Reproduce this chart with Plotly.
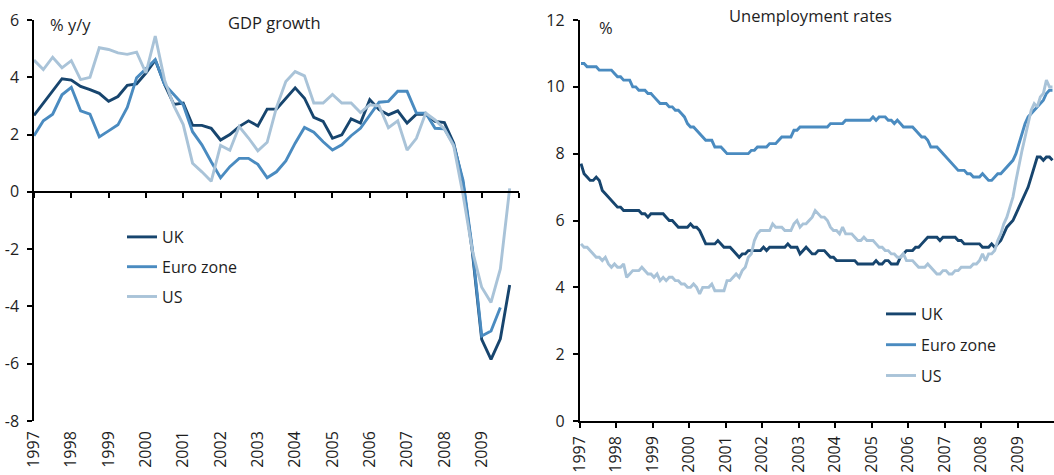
import plotly.graph_objects as go

# ---------------- GDP growth (% y/y), quarterly 1997Q1 - 2009Q4 ----------------
gdp_start_year = 1997
gdp_uk = [2.67, 3.1, 3.5, 3.95, 3.9, 3.68, 3.57, 3.44, 3.16, 3.33,
          3.72, 3.77, 4.15, 4.6, 3.75, 3.05, 3.1, 2.32, 2.32, 2.22,
          1.81, 2.0, 2.28, 2.48, 2.3, 2.89, 2.89, 3.27, 3.63, 3.27,
          2.6, 2.46, 1.87, 1.99, 2.55, 2.4, 3.22, 2.87, 2.69, 2.83,
          2.4, 2.71, 2.71, 2.46, 2.42, 1.7, 0.3, -2.1, -5.15, -5.85,
          -5.13, -3.25]
gdp_euro = [1.96, 2.48, 2.71, 3.39, 3.65, 2.83, 2.71, 1.92, 2.13, 2.34,
            2.95, 3.98, 4.3, 4.62, 3.75, 3.4, 3.04, 2.1, 1.64, 1.05,
            0.49, 0.88, 1.17, 1.17, 0.96, 0.49, 0.7, 1.08, 1.7, 2.25,
            2.08, 1.75, 1.46, 1.64, 1.96, 2.22, 2.67, 3.13, 3.16, 3.51,
            3.51, 2.75, 2.75, 2.22, 2.2, 1.64, 0.4, -2.0, -5.03, -4.86,
            -4.04]
gdp_us = [4.6, 4.27, 4.7, 4.33, 4.58, 3.92, 4.0, 5.03, 4.97, 4.85,
          4.8, 4.88, 4.15, 5.44, 3.9, 3.0, 2.35, 1.0, 0.7, 0.37,
          1.62, 1.45, 2.28, 1.88, 1.43, 1.73, 2.95, 3.85, 4.2, 4.05,
          3.1, 3.1, 3.4, 3.1, 3.1, 2.77, 3.04, 3.0, 2.24, 2.48,
          1.46, 1.87, 2.75, 2.51, 2.2, 1.6, -0.1, -2.05, -3.33, -3.86,
          -2.69, 0.12]
gdp_ticks = [-8, -6, -4, -2, 0, 2, 4, 6]
gdp_tick_labels = ["-8", "-6", "-4", "-2", "0", "2", "4", "6"]

# ---------------- Unemployment rates (%), monthly Jan 1997 - Dec 2009 ----------------
un_start_year = 1997
un_uk = [7.7, 7.4, 7.3, 7.2, 7.2, 7.3, 7.2, 6.9, 6.8, 6.7, 6.6, 6.5,   # 1997
         6.4, 6.4, 6.3, 6.3, 6.3, 6.3, 6.3, 6.3, 6.2, 6.2, 6.1, 6.2,   # 1998
         6.2, 6.2, 6.2, 6.2, 6.1, 6.0, 6.0, 5.9, 5.8, 5.8, 5.8, 5.8,   # 1999
         5.9, 5.8, 5.8, 5.7, 5.5, 5.3, 5.3, 5.3, 5.3, 5.4, 5.3, 5.2,   # 2000
         5.2, 5.2, 5.1, 5.0, 4.9, 5.0, 5.0, 5.1, 5.1, 5.1, 5.1, 5.1,   # 2001
         5.2, 5.1, 5.2, 5.2, 5.2, 5.2, 5.2, 5.2, 5.3, 5.2, 5.2, 5.2,   # 2002
         5.0, 5.1, 5.2, 5.1, 5.0, 5.0, 5.1, 5.1, 5.1, 5.0, 4.9, 4.9,   # 2003
         4.8, 4.8, 4.8, 4.8, 4.8, 4.8, 4.8, 4.7, 4.7, 4.7, 4.7, 4.7,   # 2004
         4.7, 4.8, 4.7, 4.7, 4.8, 4.8, 4.7, 4.7, 4.7, 4.9, 5.0, 5.1,   # 2005
         5.1, 5.1, 5.2, 5.2, 5.3, 5.4, 5.5, 5.5, 5.5, 5.5, 5.4, 5.5,   # 2006
         5.5, 5.5, 5.5, 5.5, 5.4, 5.4, 5.3, 5.3, 5.3, 5.3, 5.3, 5.3,   # 2007
         5.2, 5.2, 5.2, 5.3, 5.2, 5.3, 5.4, 5.6, 5.8, 5.9, 6.0, 6.2,   # 2008
         6.4, 6.6, 6.8, 7.0, 7.3, 7.6, 7.9, 7.9, 7.8, 7.9, 7.9, 7.8]   # 2009
un_euro = [10.7, 10.7, 10.6, 10.6, 10.6, 10.6, 10.5, 10.5, 10.5, 10.5, 10.5, 10.4,   # 1997
           10.3, 10.3, 10.2, 10.2, 10.2, 10.0, 10.0, 9.9, 9.9, 9.9, 9.8, 9.8,      # 1998
           9.7, 9.6, 9.5, 9.5, 9.5, 9.4, 9.4, 9.3, 9.3, 9.2, 9.1, 8.9,             # 1999
           8.8, 8.8, 8.7, 8.6, 8.5, 8.4, 8.4, 8.4, 8.2, 8.2, 8.2, 8.1,             # 2000
           8.0, 8.0, 8.0, 8.0, 8.0, 8.0, 8.0, 8.0, 8.1, 8.1, 8.2, 8.2,             # 2001
           8.2, 8.2, 8.3, 8.3, 8.3, 8.4, 8.5, 8.5, 8.5, 8.5, 8.7, 8.7,             # 2002
           8.8, 8.8, 8.8, 8.8, 8.8, 8.8, 8.8, 8.8, 8.8, 8.8, 8.9, 8.9,             # 2003
           8.9, 8.9, 8.9, 9.0, 9.0, 9.0, 9.0, 9.0, 9.0, 9.0, 9.0, 9.0,             # 2004
           9.1, 9.0, 9.1, 9.1, 9.1, 9.0, 9.0, 8.9, 9.0, 8.9, 8.8, 8.8,             # 2005
           8.8, 8.8, 8.7, 8.6, 8.5, 8.5, 8.4, 8.2, 8.2, 8.2, 8.1, 8.0,             # 2006
           7.9, 7.8, 7.7, 7.6, 7.5, 7.5, 7.5, 7.4, 7.4, 7.3, 7.3, 7.3,             # 2007
           7.4, 7.3, 7.2, 7.2, 7.3, 7.4, 7.4, 7.5, 7.6, 7.7, 7.8, 8.0,             # 2008
           8.3, 8.6, 8.9, 9.1, 9.2, 9.3, 9.4, 9.5, 9.6, 9.8, 9.9, 9.9]             # 2009
un_us = [5.3, 5.2, 5.2, 5.1, 5.0, 4.9, 4.9, 4.8, 4.9, 4.7, 4.6, 4.7,   # 1997
         4.6, 4.6, 4.7, 4.3, 4.4, 4.5, 4.5, 4.5, 4.6, 4.5, 4.4, 4.4,   # 1998
         4.3, 4.4, 4.2, 4.3, 4.2, 4.3, 4.3, 4.2, 4.2, 4.1, 4.1, 4.0,   # 1999
         4.0, 4.1, 4.0, 3.8, 4.0, 4.0, 4.0, 4.1, 3.9, 3.9, 3.9, 3.9,   # 2000
         4.2, 4.2, 4.3, 4.4, 4.3, 4.5, 4.6, 4.9, 5.0, 5.4, 5.6, 5.7,   # 2001
         5.7, 5.7, 5.7, 5.9, 5.8, 5.8, 5.8, 5.7, 5.7, 5.7, 5.9, 6.0,   # 2002
         5.8, 5.9, 5.9, 6.0, 6.1, 6.3, 6.2, 6.1, 6.1, 6.0, 5.8, 5.7,   # 2003
         5.7, 5.6, 5.8, 5.6, 5.6, 5.6, 5.5, 5.4, 5.4, 5.5, 5.4, 5.4,   # 2004
         5.4, 5.3, 5.2, 5.2, 5.1, 5.1, 5.0, 5.0, 4.9, 4.9, 5.0, 4.8,   # 2005
         4.8, 4.8, 4.7, 4.6, 4.6, 4.6, 4.7, 4.6, 4.5, 4.4, 4.4, 4.5,   # 2006
         4.5, 4.4, 4.4, 4.5, 4.5, 4.6, 4.6, 4.6, 4.6, 4.7, 4.7, 4.8,   # 2007
         5.0, 4.8, 5.0, 5.0, 5.1, 5.4, 5.6, 5.9, 6.1, 6.4, 6.7, 7.2,   # 2008
         7.7, 8.1, 8.5, 8.9, 9.3, 9.5, 9.4, 9.7, 9.8, 10.2, 10.0, 10.0]  # 2009

series_names = ["UK", "Euro zone", "US"]
series_colors = ["#17456e", "#4a8bc0", "#a9c3d8"]
year_ticks = list(range(1997, 2010))
year_labels = [str(y) for y in year_ticks]

def quarter_x(n):
    return [gdp_start_year + i / 4 for i in range(n)]

def month_x(n):
    return [un_start_year + (i + 0.5) / 12 for i in range(n)]

FONT = "Open Sans"
TXT = "#1e1e1e"

fig = go.Figure()
for name, col, vals in zip(series_names, series_colors, [gdp_uk, gdp_euro, gdp_us]):
    fig.add_trace(go.Scatter(x=quarter_x(len(vals)), y=vals, mode="lines", name=name,
                             line=dict(color=col, width=2.9), xaxis="x", yaxis="y",
                             legend="legend", legendgroup="l_" + name))
# transparent copy on the overlaid label axis so that the year labels get drawn
fig.add_trace(go.Scatter(x=quarter_x(len(gdp_us)), y=gdp_us, mode="lines",
                         line=dict(width=0, color="rgba(0,0,0,0)"), opacity=0,
                         xaxis="x3", yaxis="y", showlegend=False, hoverinfo="skip"))
for name, col, vals in zip(series_names, series_colors, [un_uk, un_euro, un_us]):
    fig.add_trace(go.Scatter(x=month_x(len(vals)), y=vals, mode="lines", name=name,
                             line=dict(color=col, width=2.9), xaxis="x2", yaxis="y2",
                             legend="legend2", legendgroup="r_" + name))

W, H = 1054, 475
ML, MR, MT, MB = 34, 0, 20, 54
PW, PH = W - ML - MR, H - MT - MB

def px(xpix):
    return (xpix - ML) / PW

def py(ypix):
    return (H - MB - ypix) / PH

left_dom = [0, px(519)]
right_dom = [px(579.5), 1.0]

TICKFONT = dict(family=FONT, size=16, color=TXT)
axis_common = dict(showgrid=False, zeroline=False, linecolor="black", linewidth=1.5,
                   tickcolor="black", tickwidth=1.5, ticklen=5, tickfont=TICKFONT)
label_common = {k: v for k, v in axis_common.items() if k not in ("linecolor", "linewidth")}

fig.update_layout(
    width=W, height=H,
    margin=dict(l=ML, r=MR, t=MT, b=MB, pad=0),
    paper_bgcolor="white", plot_bgcolor="white",
    font=dict(family=FONT, size=15, color=TXT),
    xaxis=dict(domain=left_dom, range=[1997, 2010], anchor="free", position=8 / 14,
               showline=True, ticks="outside", tickvals=list(range(1997, 2011)),
               showticklabels=False, **axis_common),
    xaxis3=dict(overlaying="x", range=[1997, 2010], anchor="y", side="bottom",
                showline=False, ticks="", tickvals=year_ticks, ticktext=year_labels,
                tickangle=-90, ticklabelstandoff=6, **label_common),
    yaxis=dict(domain=[0, 1], range=[-8, 6], anchor="x", showline=True, ticks="outside",
               tickvals=gdp_ticks, ticktext=gdp_tick_labels, ticklabelstandoff=5,
               **axis_common),
    xaxis2=dict(domain=right_dom, range=[1997, 2010], anchor="y2", showline=True,
                ticks="outside", tickvals=year_ticks, ticktext=year_labels, tickangle=-90,
                ticklabelstandoff=2, **axis_common),
    yaxis2=dict(domain=[0, 1], range=[0, 12], anchor="x2", showline=True, ticks="outside",
                tickvals=list(range(0, 13, 2)), ticklabelstandoff=5, **axis_common),
    legend=dict(x=px(122), y=py(220), xanchor="left", yanchor="top",
                bgcolor="rgba(0,0,0,0)", font=dict(family=FONT, size=16, color=TXT),
                traceorder="grouped", tracegroupgap=6, borderwidth=0),
    legend2=dict(x=px(881), y=py(297), xanchor="left", yanchor="top",
                 bgcolor="rgba(0,0,0,0)", font=dict(family=FONT, size=16, color=TXT),
                 traceorder="grouped", tracegroupgap=7, borderwidth=0),
    showlegend=True,
)

ann_font = dict(family=FONT, size=16.5, color=TXT)
fig.add_annotation(text="% y/y", x=px(70), y=py(24), xref="paper", yref="paper",
                   xanchor="center", yanchor="middle", showarrow=False, font=ann_font)
fig.add_annotation(text="GDP growth", x=px(274), y=py(23), xref="paper", yref="paper",
                   xanchor="center", yanchor="middle", showarrow=False, font=ann_font)
fig.add_annotation(text="Unemployment rates", x=px(810), y=py(16), xref="paper", yref="paper",
                   xanchor="center", yanchor="middle", showarrow=False, font=ann_font)
fig.add_annotation(text="%", x=px(606), y=py(27), xref="paper", yref="paper",
                   xanchor="center", yanchor="middle", showarrow=False, font=ann_font)

fig.write_html("out.html", config={"displayModeBar": False},
               post_script="document.body.style.margin='0px';document.body.style.overflow='hidden';")
